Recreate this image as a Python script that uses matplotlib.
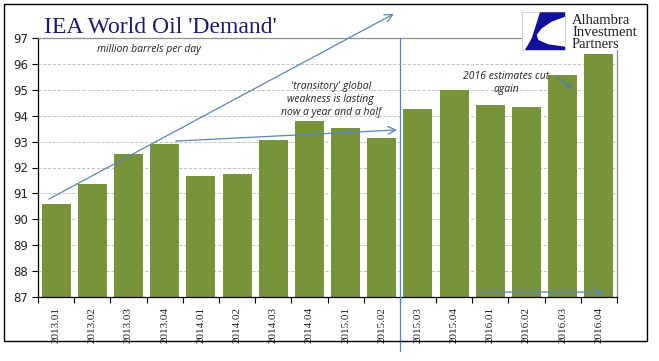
import matplotlib
matplotlib.use("Agg")
import matplotlib.pyplot as plt
from matplotlib.patches import Rectangle, Polygon

quarters = ["2013.01", "2013.02", "2013.03", "2013.04",
            "2014.01", "2014.02", "2014.03", "2014.04",
            "2015.01", "2015.02", "2015.03", "2015.04",
            "2016.01", "2016.02", "2016.03", "2016.04"]
demand = [90.6, 91.38, 92.53, 92.92, 91.68, 91.76, 93.07, 93.8,
          93.54, 93.14, 94.24, 94.98, 94.42, 94.35, 95.58, 96.38]
y_ticks = [87, 88, 89, 90, 91, 92, 93, 94, 95, 96, 97]

W, H = 659, 361
fig = plt.figure(figsize=(W / 100, H / 100), dpi=100)
ax = fig.add_axes([38 / W, 1 - 297 / H, (617 - 38) / W, (297 - 38) / H])

x = list(range(len(quarters)))
ax.bar(x, demand, width=0.8, color="#77933C", zorder=2)

ax.set_xlim(-0.5, len(quarters) - 0.5)
ax.set_ylim(87, 97)
ax.set_yticks(y_ticks)
ax.set_yticklabels([str(v) for v in y_ticks], fontsize=8.5, family="DejaVu Sans", color="#222222")
ax.grid(axis="y", linestyle=(0, (3, 2)), color="#C0C0C0", linewidth=0.7, zorder=0)

ax.set_xticks(x)
ax.set_xticklabels(quarters, rotation=90, fontsize=8, family="Liberation Serif", color="#222222")
ax.set_xticks([i - 0.5 for i in range(len(quarters) + 1)], minor=True)
ax.tick_params(axis="x", which="major", length=0, pad=7)
ax.tick_params(axis="x", which="minor", length=4, direction="out", width=0.8)
ax.tick_params(axis="y", length=4, direction="out", width=0.8, pad=3)

for s in ["left", "bottom"]:
    ax.spines[s].set_color("black")
    ax.spines[s].set_linewidth(0.9)
for s in ["top", "right"]:
    ax.spines[s].set_color("#8C8C8C")
    ax.spines[s].set_linewidth(0.9)

arrow_c = "#5B84BA"
aprops = dict(arrowstyle="->", color=arrow_c, lw=0.9, mutation_scale=14, shrinkA=0, shrinkB=0)

# vertical divider
ax.plot([9.5, 9.5], [97, 84.9], color=arrow_c, lw=0.9, clip_on=False, zorder=3)

ax.annotate("", xy=(9.33, 97.93), xytext=(-0.2, 90.78), arrowprops=aprops, annotation_clip=False)
ax.annotate("", xy=(9.42, 93.45), xytext=(3.31, 93.02), arrowprops=aprops, annotation_clip=False)
ax.annotate("", xy=(15.13, 87.19), xytext=(11.71, 87.19), arrowprops=aprops, annotation_clip=False)
ax.annotate("", xy=(14.28, 95.03), xytext=(13.86, 95.46),
            arrowprops=dict(aprops, color="#4F7DA8", mutation_scale=10), annotation_clip=False)

note_font = dict(family=["Open Sans", "DejaVu Sans"], style="italic", fontsize=7.5,
                 color="#222222", ha="center", va="center")
ax.text(2.57, 96.54, "million barrels per day", **note_font)
ax.text(7.59, 94.64, "'transitory' global\nweakness is lasting\nnow a year and a half",
        linespacing=1.25, **note_font)
ax.text(12.43, 95.28, "2016 estimates cut\nagain", linespacing=1.25, **note_font)

fig.text(44 / W, 1 - 33 / H, "IEA World Oil 'Demand'", family="Liberation Serif",
         fontsize=17, color="#1A1A72", ha="left", va="baseline")

# logo
fig.add_artist(Rectangle((522 / W, 1 - 50 / H), (645 - 522) / W, (50 - 8) / H,
                         transform=fig.transFigure, facecolor="white", edgecolor="none", zorder=4))
fig.add_artist(Rectangle((522 / W, 1 - 50 / H), (565 - 522) / W, (50 - 12) / H,
                         transform=fig.transFigure, facecolor="white", edgecolor="#C8C8C8", lw=0.6, zorder=5))
swoosh = [(540, 12.3), (565, 12.3), (565, 16.7), (551.7, 21.7), (541.7, 28.3), (536.7, 35),
          (538.3, 40), (548.3, 44.3), (565, 46.7), (565, 50), (525, 50), (531.7, 38.3)]
fig.add_artist(Polygon([(px / W, 1 - py / H) for px, py in swoosh], closed=True,
                       transform=fig.transFigure, facecolor="#10109A", edgecolor="none", zorder=6))
for i, word in enumerate(["Alhambra", "Investment", "Partners"]):
    fig.text(572 / W, 1 - (20 + 12.5 * i) / H, word, family="Liberation Serif", fontsize=10.5,
             color="#1E1E1E", ha="left", va="center", zorder=6)

# outer frame
fig.add_artist(Rectangle((4 / W, 1 - 341 / H), (647 - 4) / W, (341 - 4) / H,
                         transform=fig.transFigure, fill=False, edgecolor="black", lw=1.0, zorder=7))

fig.savefig("out.png", dpi=100, facecolor="white")
